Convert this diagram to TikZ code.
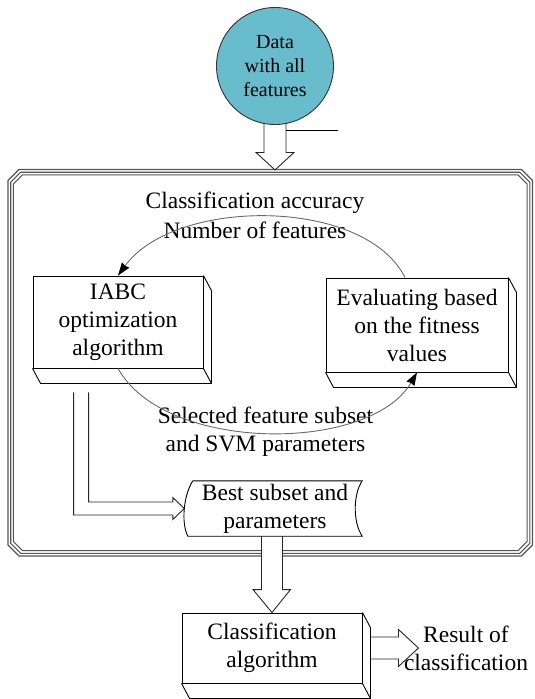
\documentclass[tikz,border=0pt]{standalone}
\usepackage{fontspec}
\setmainfont{Liberation Serif}
\usetikzlibrary{calc,arrows.meta}

\definecolor{datafill}{RGB}{104,188,203}
\definecolor{framegray}{RGB}{85,85,85}
\definecolor{arcgray}{RGB}{105,105,105}

\pgfdeclarelayer{back}
\pgfsetlayers{back,main}

% extruded bottom/right faces of a 3-D box node
\newcommand\slabfor[1]{%
  \draw[boxline] (#1.north east) -- ++(8,15) -- ($(#1.south east)+(8,15)$)
        -- ($(#1.south west)+(8,15)$) -- (#1.south west);
  \draw[boxline] (#1.south east) -- ++(8,15);
}

% rectangle with cut corners: x1, y1, x2, y2, cut
\newcommand\bevelrect[5]{%
  \draw[frameline] (#1+#5,#2) -- (#3-#5,#2) -- (#3,#2+#5) -- (#3,#4-#5)
        -- (#3-#5,#4) -- (#1+#5,#4) -- (#1,#4-#5) -- (#1,#2+#5) -- cycle;
}

\begin{document}
\begin{tikzpicture}[x=1pt,y=-1pt,
  boxline/.style={draw=black, line width=0.9pt},
  txt/.style={font=\fontsize{23.5}{28}\selectfont, align=center, inner sep=0pt},
  facebox/.style={txt, boxline, fill=white, rectangle},
  frameline/.style={draw=framegray, line width=1.1pt},
  blockarrow/.style={draw=black!85, line width=0.9pt, fill=white},
  arcline/.style={draw=arcgray, line width=0.9pt},
  arctip/.style={-{Stealth[length=13pt,width=9pt,inset=1pt,color=black]}}
]
\useasboundingbox (0,0) rectangle (535,699);

% input data
\node[draw=black!80, line width=0.9pt, fill=datafill, circle, minimum size=117pt,
      inner sep=0pt, font=\fontsize{20}{24}\selectfont, align=center]
      (data) at (275,66) {Data\\with all\\features};
\draw[boxline] ($(data.south)+(11,5.5)$) coordinate (strayA) -- ++(52,0) coordinate (strayB);

% processing boxes
\node[facebox, minimum width=170pt, minimum height=92pt] (iabc) at (118,322)
      {IABC\\optimization\\algorithm};
\slabfor{iabc}
\node[facebox, minimum width=182pt, minimum height=94pt] (eval) at (417,325)
      {Evaluating based\\on the fitness\\values};
\slabfor{eval}
\node[facebox, minimum width=180pt, minimum height=70pt] (cls) at (272,648)
      {Classification\\algorithm};
\slabfor{cls}

% stored result
\node[txt, minimum width=174pt, minimum height=55pt] (best) at (275,508.5)
      {Best subset and\\parameters};
\draw[boxline] ($(best.north west)+(5,0)$) -- (best.north east)
   .. controls ($(best.north east)+(-9.3,14)$) and ($(best.south east)+(-9.3,-14)$) .. (best.south east)
   -- (best.south west)
   .. controls ($(best.south west)+(-7,-14)$) and ($(best.north west)+(-4,14)$) .. ($(best.north west)+(5,0)$);

\node[txt] (result) at (466,648.5) {Result of\\classification};

% loop labels
\node[txt, font=\fontsize{23.5}{30}\selectfont] (fitlabel) at (255,215)
      {Classification accuracy\\Number of features};
\node[txt] (sellabel) at (265.5,431.5) {Selected feature subset\\and SVM parameters};

% feedback loop
\draw[arcline, arctip] ($(eval.north)+(-12,0)$) .. controls +(-40,-80.5) and +(57,-78.5) .. (iabc.north);
\draw[arcline, arctip] (iabc.south) .. controls +(47,84.7) and +(-47,80.7) .. (eval.south);

\begin{pgfonlayer}{back}
  % triple frame
  \bevelrect{8}{169.5}{532.5}{556}{11}
  \bevelrect{10.7}{172.2}{529.8}{553.3}{10}
  \bevelrect{13.4}{174.9}{527.1}{550.6}{9}

  % data into the frame
  \draw[blockarrow] ($(data.south)+(-11,-4)$) -- ($(data.south)+(-11,27.5)$) -- ++(-8,0)
     -- ($(data.south)+(0,45)$) -- ($(data.south)+(19,27.5)$) -- ++(-8,0)
     -- ($(data.south)+(11,-4)$);

  % optimisation output to stored result
  \coordinate (ltop) at ($(iabc.south west)+(48.5,24)$);
  \coordinate (ltip) at ($(best.west)+(-3.5,0)$);
  \draw[blockarrow] ($(ltop)+(-7.5,0)$) |- ($(ltip)+(-11.5,6.5)$) -- ++(0,4.5) -- (ltip)
     -- ($(ltip)+(-11.5,-11)$) -- ++(0,4.5) -| ($(ltop)+(7.5,0)$);

  % stored result to classifier
  \coordinate (bstart) at (best.south -| cls.north);
  \draw[blockarrow] ($(bstart)+(-10.5,0)$) -- ($(cls.north)+(-10.5,-23)$) -- ++(-8.5,0)
     -- (cls.north) -- ($(cls.north)+(18.5,-23)$) -- ++(-8,0) -- ($(bstart)+(10.5,0)$);

  % classifier to result
  \draw[blockarrow] ($(cls.east)+(8,-11)$) -- ($(cls.east)+(36,-11)$) -- ++(0,-7.5)
     -- ($(cls.east)+(56,0)$) -- ($(cls.east)+(36,18.5)$) -- ++(0,-7.5)
     -- ($(cls.east)+(8,11)$);
\end{pgfonlayer}
\end{tikzpicture}
\end{document}
